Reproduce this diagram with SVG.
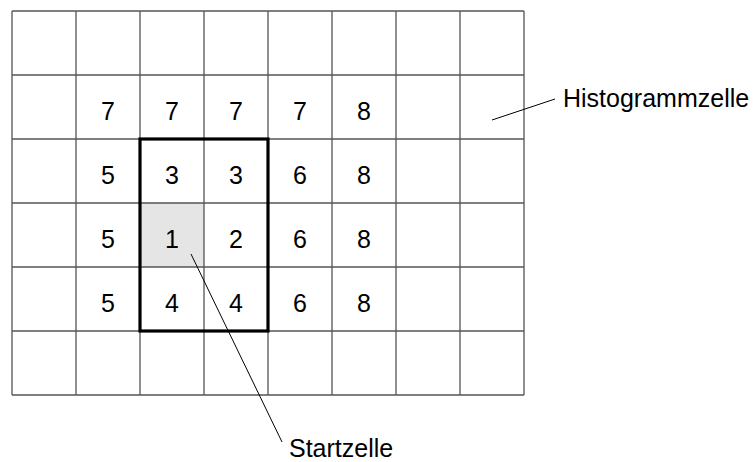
<svg xmlns="http://www.w3.org/2000/svg" width="754" height="462" viewBox="0 0 754 462">
<style>
.g{stroke:#555;stroke-width:1.3;fill:none}
.n{font-family:"Liberation Sans",Arial,sans-serif;font-size:25px;fill:#000;text-anchor:middle}
.l{font-family:"Liberation Sans",Arial,sans-serif;font-size:25px;fill:#000}
.c{stroke:#000;stroke-width:1;fill:none}
</style>
<rect width="754" height="462" fill="#fff"/>
<g id="startcell"><rect x="140" y="203" width="64" height="64" fill="#e5e5e5"/></g>
<g id="grid" class="g">
<path d="M12 11V395M76 11V395M140 11V395M204 11V395M268 11V395M332 11V395M396 11V395M460 11V395M524 11V395"/>
<path d="M12 11H524M12 75H524M12 139H524M12 203H524M12 267H524M12 331H524M12 395H524"/>
</g>
<g id="window"><rect x="140" y="139" width="128" height="192" fill="none" stroke="#000" stroke-width="3.2"/></g>
<g id="numbers">
<text class="n" x="108" y="120">7</text><text class="n" x="172" y="120">7</text><text class="n" x="236" y="120">7</text><text class="n" x="300" y="120">7</text><text class="n" x="364" y="120">8</text>
<text class="n" x="108" y="184">5</text><text class="n" x="172" y="184">3</text><text class="n" x="236" y="184">3</text><text class="n" x="300" y="184">6</text><text class="n" x="364" y="184">8</text>
<text class="n" x="108" y="248">5</text><text class="n" x="172" y="248">1</text><text class="n" x="236" y="248">2</text><text class="n" x="300" y="248">6</text><text class="n" x="364" y="248">8</text>
<text class="n" x="108" y="312">5</text><text class="n" x="172" y="312">4</text><text class="n" x="236" y="312">4</text><text class="n" x="300" y="312">6</text><text class="n" x="364" y="312">8</text>
</g>
<g id="connectors" class="c">
<line x1="492" y1="120" x2="555" y2="99"/>
<line x1="191" y1="254" x2="282" y2="442"/>
</g>
<g id="label-histogrammzelle"><text class="l" x="563" y="107">Histogrammzelle</text></g>
<g id="label-startzelle"><text class="l" x="289" y="457">Startzelle</text></g>
</svg>
